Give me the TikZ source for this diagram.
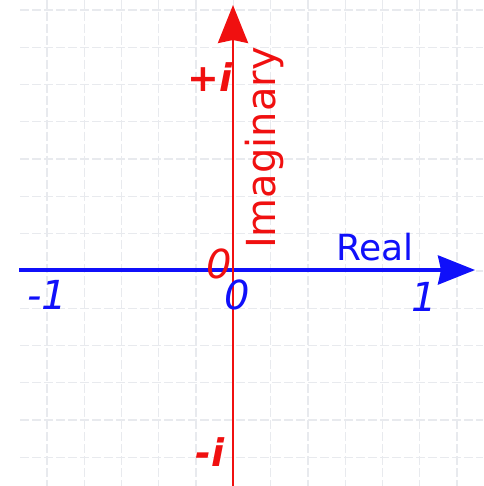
\documentclass[tikz,border=0pt]{standalone}
\usepackage{fontspec}
\setmainfont{DejaVu Sans}
\usetikzlibrary{arrows.meta}
\definecolor{axred}{RGB}{240,16,16}
\definecolor{axblue}{RGB}{16,16,250}
\definecolor{gridgray}{RGB}{232,234,238}
\begin{document}
\begin{tikzpicture}[x=1pt,y=-1pt,
  gridline/.style={draw=gridgray,line width=1.3pt,dash pattern=on 9pt off 3pt},
  bluelbl/.style={text=axblue,inner sep=0pt,font=\fontsize{40}{40}\selectfont\itshape},
  redlbl/.style={text=axred,inner sep=0pt,font=\fontsize{38}{38}\selectfont\bfseries\itshape},
  axtitle/.style={inner sep=0pt}]
\useasboundingbox (0,0) rectangle (483,486);
\fill[white] (0,0) rectangle (483,486);
% grid
\foreach \k in {0,...,12} \draw[gridline] (20,{10+37.28*\k}) -- (483,{10+37.28*\k});
\foreach \k in {0,...,11} \draw[gridline] ({47+37.28*\k},0) -- ({47+37.28*\k},486);
% real axis
\coordinate (realstart) at (19,270);
\coordinate (realend) at (475,270);
\draw[axblue,line width=3.5pt,-{Stealth[length=37pt,width=29pt,inset=3pt]}] (realstart) -- (realend);
% imaginary axis
\coordinate (imstart) at (233,486);
\coordinate (imend) at (233,5);
\draw[axred,line width=2.8pt,-{Stealth[length=38pt,width=30pt,inset=3pt]}] (imstart) -- (imend);
% labels
\node[bluelbl] (mone) at (47,295) {-1};
\node[bluelbl] (bzero) at (237,295) {0};
\node[bluelbl] (one) at (424,297) {1};
\node[text=axred,inner sep=0pt,font=\fontsize{40}{40}\selectfont\itshape] (rzero) at (219,264) {0};
\node[redlbl] (pi) at (210,77) {+i};
\node[redlbl] (mi) at (210,452) {-i};
\node[axtitle,text=axblue,font=\fontsize{36}{36}\selectfont,anchor=base west] (real) at (336,260) {Real};
\node[axtitle,text=axred,font=\fontsize{40}{40}\selectfont,rotate=90,anchor=base west] (imag) at (275,249) {Imaginary};
\end{tikzpicture}
\end{document}
